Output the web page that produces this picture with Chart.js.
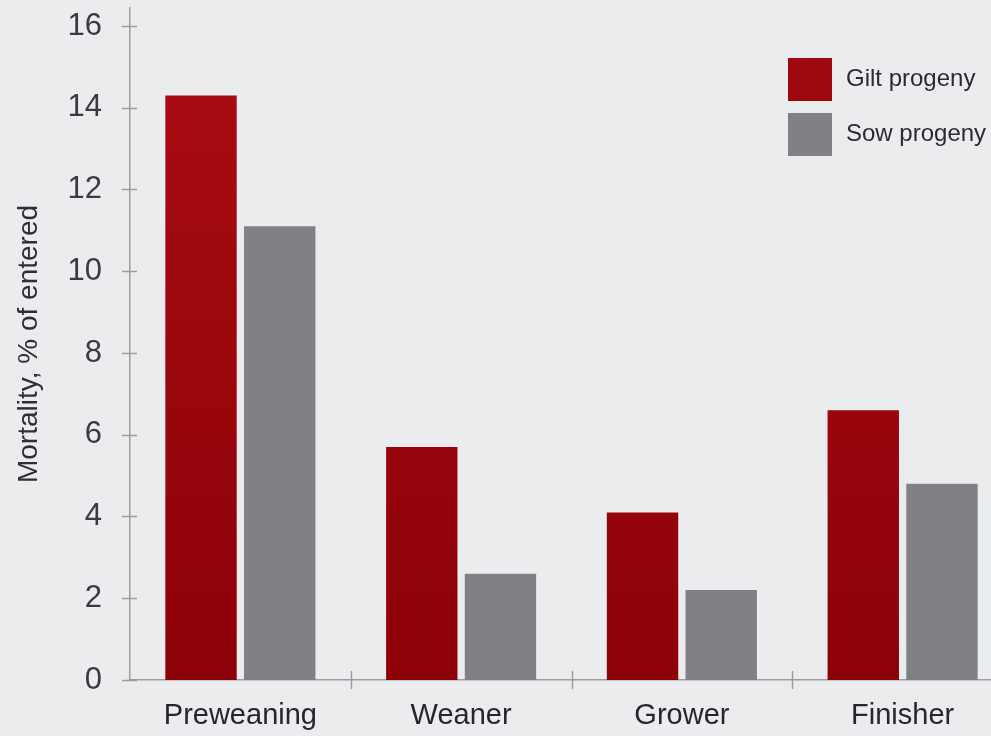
<!DOCTYPE html>
<html>
<head>
<meta charset="utf-8">
<script src="https://cdn.jsdelivr.net/npm/chart.js@4.4.1/dist/chart.umd.min.js"></script>
<style>
  html, body { margin: 0; padding: 0; background: #ebecee; overflow: hidden; }
  #wrap { width: 1013px; height: 736px; }
</style>
</head>
<body>
<div id="wrap"><canvas id="myChart" width="1013" height="736"></canvas></div>
<script>
const categories = ['Preweaning', 'Weaner', 'Grower', 'Finisher'];
const giltProgeny = [14.3, 5.7, 4.1, 6.6];
const sowProgeny = [11.1, 2.6, 2.2, 4.8];
const seriesNames = ['Gilt progeny', 'Sow progeny'];
const yTickValues = [0, 2, 4, 6, 8, 10, 12, 14, 16];

const FONT = "'Liberation Sans Narrow', 'Liberation Sans', Arial, sans-serif";
const AXIS_GREY = '#9c9da0';
const SOW_GREY = '#7f8184';

Chart.defaults.font.family = FONT;

// red bars fade slightly darker toward the baseline
function redFill(context) {
    const area = context.chart.chartArea;
    if (!area) return '#9c0810';
    const g = context.chart.ctx.createLinearGradient(0, area.top, 0, area.bottom);
    g.addColorStop(0, '#ab0c14');
    g.addColorStop(1, '#8c0207');
    return g;
}

// small tick marks that cross both axes
const crossTicks = {
    id: 'crossTicks',
    afterDraw(chart) {
        const ctx = chart.ctx;
        const x = chart.scales.x;
        const y = chart.scales.y;
        ctx.save();
        ctx.strokeStyle = AXIS_GREY;
        ctx.lineWidth = 1.5;
        ctx.beginPath();
        for (const v of yTickValues) {
            const py = Math.round(y.getPixelForValue(v)) + 0.5;
            ctx.moveTo(y.right - 8, py);
            ctx.lineTo(y.right + 7, py);
        }
        const half = (x.getPixelForValue(1) - x.getPixelForValue(0)) / 2;
        for (let i = 1; i <= categories.length; i++) {
            const px = Math.round(x.getPixelForValue(i) - half) + 0.5;
            ctx.moveTo(px, x.top - 9);
            ctx.lineTo(px, x.top + 9);
        }
        ctx.stroke();
        ctx.restore();
    }
};

// legend boxes in the top right corner of the plot
const cornerLegend = {
    id: 'cornerLegend',
    afterDraw(chart) {
        const ctx = chart.ctx;
        const area = chart.chartArea;
        const left = area.right - 225;
        let top = 58;
        ctx.save();
        chart.data.datasets.forEach((ds, i) => {
            ctx.fillStyle = i === 0 ? '#a00810' : SOW_GREY;
            ctx.fillRect(left, top, 44, 43);
            ctx.fillStyle = '#2b2b35';
            ctx.font = '24px ' + FONT;
            ctx.textBaseline = 'middle';
            ctx.textAlign = 'left';
            ctx.fillText(ds.label, left + 58, top + 21);
            top += 55;
        });
        ctx.restore();
    }
};

const ctx = document.getElementById('myChart').getContext('2d');
const myChart = new Chart(ctx, {
    type: 'bar',
    data: {
        labels: categories,
        datasets: [{
            label: seriesNames[0],
            data: giltProgeny,
            backgroundColor: redFill,
            borderWidth: 0
        }, {
            label: seriesNames[1],
            data: sowProgeny,
            backgroundColor: SOW_GREY,
            borderWidth: 0
        }]
    },
    options: {
        responsive: false,
        animation: false,
        layout: { padding: { top: 8, right: 0, left: 0, bottom: 0 } },
        categoryPercentage: 0.713,
        barPercentage: 0.907,
        plugins: {
            legend: { display: false },
            tooltip: { enabled: false }
        },
        scales: {
            x: {
                grid: { display: false, drawTicks: false },
                border: { color: AXIS_GREY, width: 1.5 },
                ticks: {
                    color: '#26262e',
                    font: { size: 29 },
                    padding: 19,
                    maxRotation: 0
                },
                afterFit(scale) {
                    scale.height = 56;
                    scale.paddingLeft = 0;
                    scale.paddingRight = 0;
                }
            },
            y: {
                min: 0,
                max: 16.44,
                afterBuildTicks(scale) {
                    scale.ticks = yTickValues.map(v => ({ value: v }));
                },
                grid: { display: false, drawTicks: false },
                border: { color: AXIS_GREY, width: 1.5 },
                ticks: {
                    color: '#3a3a40',
                    font: { size: 31 },
                    padding: 28
                },
                title: {
                    display: true,
                    text: 'Mortality, % of entered',
                    color: '#2e2e36',
                    font: { size: 28 },
                    padding: { top: 12, bottom: 0 }
                },
                afterFit(scale) {
                    scale.width = 130;
                    scale.paddingTop = 0;
                    scale.paddingBottom = 0;
                }
            }
        }
    },
    plugins: [crossTicks, cornerLegend]
});
</script>
</body>
</html>
